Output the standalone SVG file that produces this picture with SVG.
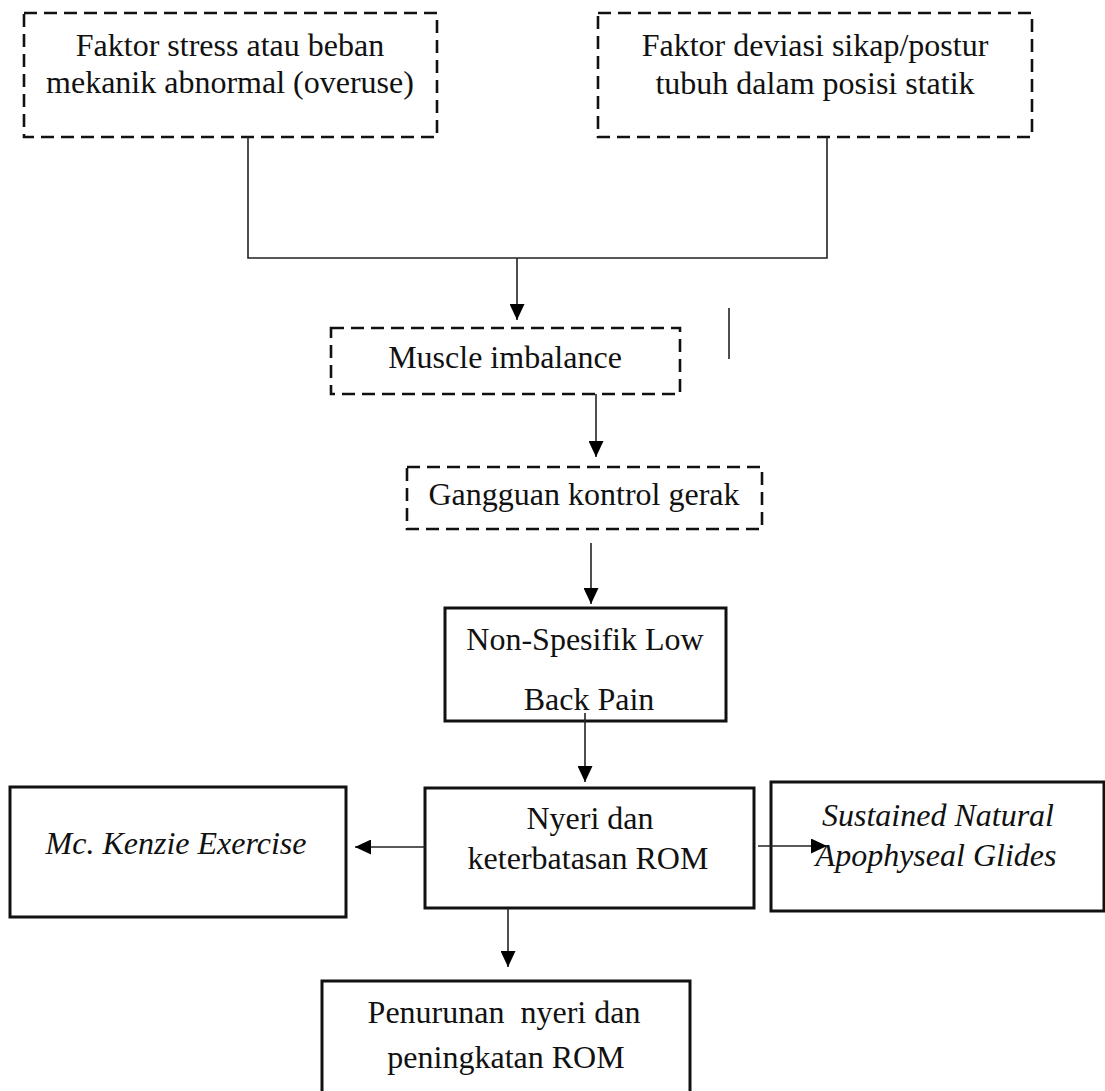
<svg xmlns="http://www.w3.org/2000/svg" width="1105" height="1091" viewBox="0 0 1105 1091">
<style>
  .dash { fill: #fff; stroke: #111; stroke-width: 2.6; stroke-dasharray: 13 7; }
  .solid { fill: #fff; stroke: #111; stroke-width: 3; }
  .t { font-family: "Liberation Serif", "Times New Roman", serif; font-size: 32px; fill: #111; text-anchor: middle; white-space: pre; }
  .ti { font-style: italic; }
  .c { fill: none; stroke: #222; stroke-width: 1.6; }
</style>
<defs>
  <marker id="ah" markerUnits="userSpaceOnUse" markerWidth="16" markerHeight="15" refX="16" refY="7.5" orient="auto">
    <path d="M0,0 L16,7.5 L0,15 Z" fill="#000"/>
  </marker>
</defs>
<rect width="1105" height="1091" fill="#fff"/>

<g id="faktor-stress">
  <rect class="dash" x="24" y="13" width="413" height="124"/>
  <text class="t" x="230" y="56">Faktor stress atau beban</text>
  <text class="t" x="230" y="93">mekanik abnormal (overuse)</text>
</g>

<g id="faktor-deviasi">
  <rect class="dash" x="598" y="13" width="434" height="124"/>
  <text class="t" x="815" y="56">Faktor deviasi sikap/postur</text>
  <text class="t" x="815" y="94">tubuh dalam posisi statik</text>
</g>

<g id="muscle-imbalance">
  <rect class="dash" x="331" y="328" width="349" height="66"/>
  <text class="t" x="505" y="368">Muscle imbalance</text>
</g>

<g id="gangguan">
  <rect class="dash" x="407" y="467" width="355" height="62"/>
  <text class="t" x="584" y="505">Gangguan kontrol gerak</text>
</g>

<g id="nslbp">
  <rect class="solid" x="445" y="608" width="281" height="113"/>
  <text class="t" x="585" y="650">Non-Spesifik Low</text>
  <text class="t" x="589" y="710">Back Pain</text>
</g>

<g id="nyeri">
  <rect class="solid" x="425" y="788" width="329" height="120"/>
  <text class="t" x="590" y="829">Nyeri dan</text>
  <text class="t" x="588" y="869">keterbatasan ROM</text>
</g>

<g id="mckenzie">
  <rect class="solid" x="10" y="787" width="336" height="130"/>
  <text class="t ti" x="176" y="854">Mc. Kenzie Exercise</text>
</g>

<g id="snag">
  <rect class="solid" x="771" y="782" width="333" height="129"/>
  <text class="t ti" x="938" y="826">Sustained Natural</text>
  <text class="t ti" x="936" y="866">Apophyseal Glides</text>
</g>

<g id="penurunan">
  <rect class="solid" x="322" y="981" width="368" height="130"/>
  <text class="t" x="504" y="1023">Penurunan  nyeri dan</text>
  <text class="t" x="506" y="1068">peningkatan ROM</text>
</g>

<g id="connectors">
  <polyline class="c" points="248,137 248,258 827,258 827,137" stroke="#555"/>
  <line class="c" x1="517" y1="258" x2="517" y2="320" marker-end="url(#ah)"/>
  <line class="c" x1="729" y1="308" x2="729" y2="359"/>
  <line class="c" x1="596" y1="394" x2="596" y2="457" marker-end="url(#ah)"/>
  <line class="c" x1="591" y1="543" x2="591" y2="604" marker-end="url(#ah)"/>
  <line class="c" x1="585" y1="713" x2="585" y2="782" marker-end="url(#ah)"/>
  <line class="c" x1="425" y1="847" x2="355" y2="847" stroke="#444" marker-end="url(#ah)"/>
  <line class="c" x1="758" y1="846" x2="827" y2="846" marker-end="url(#ah)"/>
  <line class="c" x1="508" y1="908" x2="508" y2="967" marker-end="url(#ah)"/>
</g>
</svg>
